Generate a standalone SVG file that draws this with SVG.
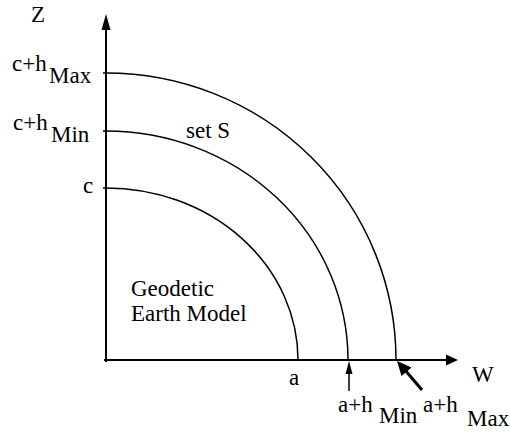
<svg xmlns="http://www.w3.org/2000/svg" width="510" height="432" viewBox="0 0 510 432">
<style>
text{font-family:'Liberation Serif','DejaVu Serif',serif;font-size:23px;fill:#000}
.ln{fill:none;stroke:#000;stroke-width:1.5}
.ax{fill:none;stroke:#000;stroke-width:2}
</style>
<rect width="510" height="432" fill="#fff"/>
<g id="connectors">
<line class="ax" x1="106" y1="362" x2="106" y2="28"/>
<polygon points="106,14 101.5,30 110.5,30" fill="#000"/>
<line class="ax" x1="104" y1="360" x2="448" y2="360"/>
<polygon points="458,360 446,354.5 446,365.5" fill="#000"/>
<line class="ln" x1="103" y1="73" x2="106" y2="73"/>
<line class="ln" x1="103" y1="131" x2="106" y2="131"/>
<line class="ln" x1="103" y1="188" x2="106" y2="188"/>
<line class="ln" x1="349" y1="391" x2="349" y2="372"/>
<polygon points="349,361 345.5,374 352.5,374" fill="#000"/>
<line x1="422" y1="390" x2="405" y2="370" stroke="#000" stroke-width="3"/>
<polygon points="397,361 401.5,376 411.5,367.5" fill="#000"/>
</g>
<g id="earth">
<path class="ln" d="M106,188 A192,172 0 0 1 298,360"/>
<text x="131" y="296">Geodetic</text>
<text x="131" y="321">Earth Model</text>
</g>
<g id="setS-inner">
<path class="ln" d="M106,131 A242,229 0 0 1 348,360"/>
<text x="186" y="138">set S</text>
</g>
<g id="setS-outer">
<path class="ln" d="M106,73 A290,287 0 0 1 396,360"/>
</g>
<g id="labels">
<text x="31" y="22">Z</text>
<text x="472" y="382">W</text>
<text x="12" y="71">c+h</text>
<text x="49" y="83">Max</text>
<text x="13" y="130">c+h</text>
<text x="51" y="142">Min</text>
<text x="83" y="193">c</text>
<text x="289" y="385">a</text>
<text x="338" y="412">a+h</text>
<text x="379" y="423">Min</text>
<text x="423" y="412">a+h</text>
<text x="467" y="426">Max</text>
</g>
</svg>
